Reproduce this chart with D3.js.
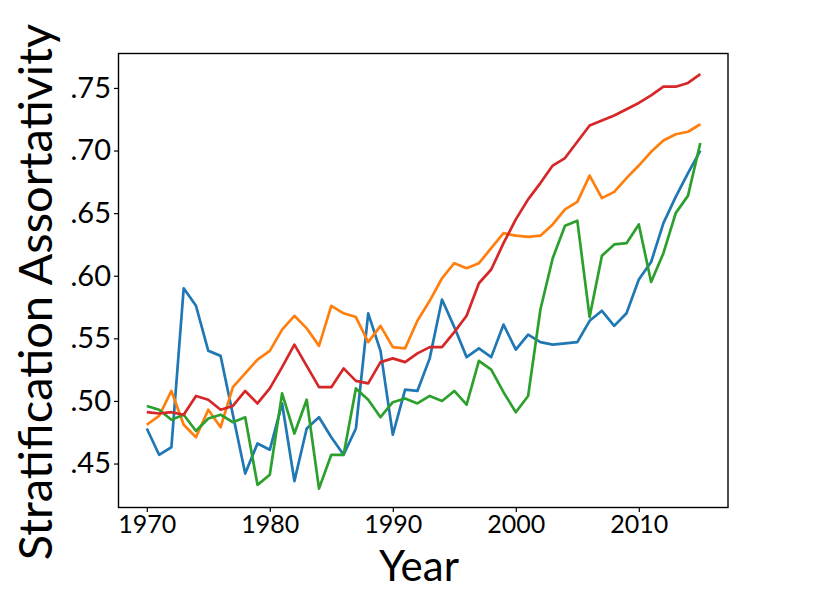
<!DOCTYPE html>
<html>
<head>
<meta charset="utf-8">
<script src="https://d3js.org/d3.v7.min.js"></script>
<style>
  body { margin: 0; background: #fff; }
  text { font-family: Lato, "Open Sans", sans-serif; fill: #000; }
</style>
</head>
<body>
<div id="chart"></div>
<script>
// values
const years = [1970, 1971, 1972, 1973, 1974, 1975, 1976, 1977, 1978, 1979,
  1980, 1981, 1982, 1983, 1984, 1985, 1986, 1987, 1988, 1989,
  1990, 1991, 1992, 1993, 1994, 1995, 1996, 1997, 1998, 1999,
  2000, 2001, 2002, 2003, 2004, 2005, 2006, 2007, 2008, 2009,
  2010, 2011, 2012, 2013, 2014, 2015];

const blueSeries = [.478, .457, .463, .590, .576, .540, .536, .489, .442, .466,
  .461, .498, .436, .478, .487, .471, .457, .478, .570, .540,
  .473, .509, .508, .534, .581, .559, .535, .542, .535, .561,
  .541, .553, .547, .545, .546, .547, .564, .572, .560, .570,
  .597, .611, .642, .663, .682, .700];

const orangeSeries = [.481, .488, .508, .481, .471, .493, .479, .511, .522, .533,
  .540, .557, .568, .558, .544, .576, .570, .567, .547, .560,
  .543, .542, .564, .580, .598, .610, .606, .610, .622, .634,
  .632, .631, .632, .641, .653, .659, .680, .662, .667, .678,
  .688, .699, .708, .713, .715, .721];

const greenSeries = [.496, .493, .485, .489, .476, .486, .489, .483, .487, .433,
  .441, .506, .474, .501, .430, .457, .457, .510, .501, .487,
  .499, .502, .498, .504, .500, .508, .497, .532, .525, .507,
  .491, .504, .573, .614, .640, .644, .567, .616, .625, .626,
  .641, .595, .618, .650, .664, .706];

const redSeries = [.491, .490, .491, .489, .504, .501, .493, .496, .508, .498,
  .510, .527, .545, .528, .511, .511, .526, .516, .514, .531,
  .534, .531, .538, .543, .543, .555, .568, .594, .605, .626,
  .645, .661, .674, .688, .694, .707, .720, .724, .728, .733,
  .738, .744, .751, .751, .754, .761];

const xTicks = [1970, 1980, 1990, 2000, 2010];
const yTicks = [.45, .50, .55, .60, .65, .70, .75];

const width = 830;
const height = 590;
const margin = {top: 53.5, right: 102, bottom: 82.5, left: 118.5};

const svg = d3.select("#chart")
  .append("svg")
  .attr("width", width)
  .attr("height", height);

const x = d3.scaleLinear()
  .domain([1967.7, 2017.25])
  .range([margin.left, width - margin.right]);

const y = d3.scaleLinear()
  .domain([.4149, .7775])
  .range([height - margin.bottom, margin.top]);

// lines, drawn in the same order as the picture (red ends up on top)
const line = d3.line()
  .x((d, i) => x(years[i]))
  .y(d => y(d));

const series = [
  {values: blueSeries, color: "#1f77b4"},
  {values: orangeSeries, color: "#ff7f0e"},
  {values: greenSeries, color: "#2ca02c"},
  {values: redSeries, color: "#d62728"}
];

svg.append("g")
  .selectAll("path")
  .data(series)
  .enter()
  .append("path")
  .attr("d", d => line(d.values))
  .attr("fill", "none")
  .attr("stroke", d => d.color)
  .attr("stroke-width", 2.7)
  .attr("stroke-linejoin", "round");

// axes
const xAxis = svg.append("g")
  .attr("transform", `translate(0,${height - margin.bottom})`)
  .call(d3.axisBottom(x).tickValues(xTicks).tickFormat(d3.format("d")).tickSize(4.5).tickPadding(3));

const yAxis = svg.append("g")
  .attr("transform", `translate(${margin.left},0)`)
  .call(d3.axisLeft(y).tickValues(yTicks).tickFormat(d => d3.format(".2f")(d).replace(/^0/, "")).tickSize(4.5).tickPadding(3));

[xAxis, yAxis].forEach(g => {
  g.select(".domain").remove();
  g.selectAll(".tick line").attr("stroke", "#000").attr("stroke-width", 1.2);
});
xAxis.selectAll(".tick text").attr("font-size", 25).attr("font-family", "Lato");
yAxis.selectAll(".tick text").attr("font-size", 29).attr("font-family", "Lato");

// frame
svg.append("rect")
  .attr("x", margin.left)
  .attr("y", margin.top)
  .attr("width", width - margin.right - margin.left)
  .attr("height", height - margin.bottom - margin.top)
  .attr("fill", "none")
  .attr("stroke", "#000")
  .attr("stroke-width", 1.4);

// axis titles
svg.append("text")
  .attr("x", 419)
  .attr("y", 580.5)
  .attr("text-anchor", "middle")
  .attr("font-size", 42)
  .text("Year");

svg.append("text")
  .attr("transform", "translate(52,292) rotate(-90)")
  .attr("text-anchor", "middle")
  .attr("font-size", 47)
  .text("Stratification Assortativity");
</script>
</body>
</html>
